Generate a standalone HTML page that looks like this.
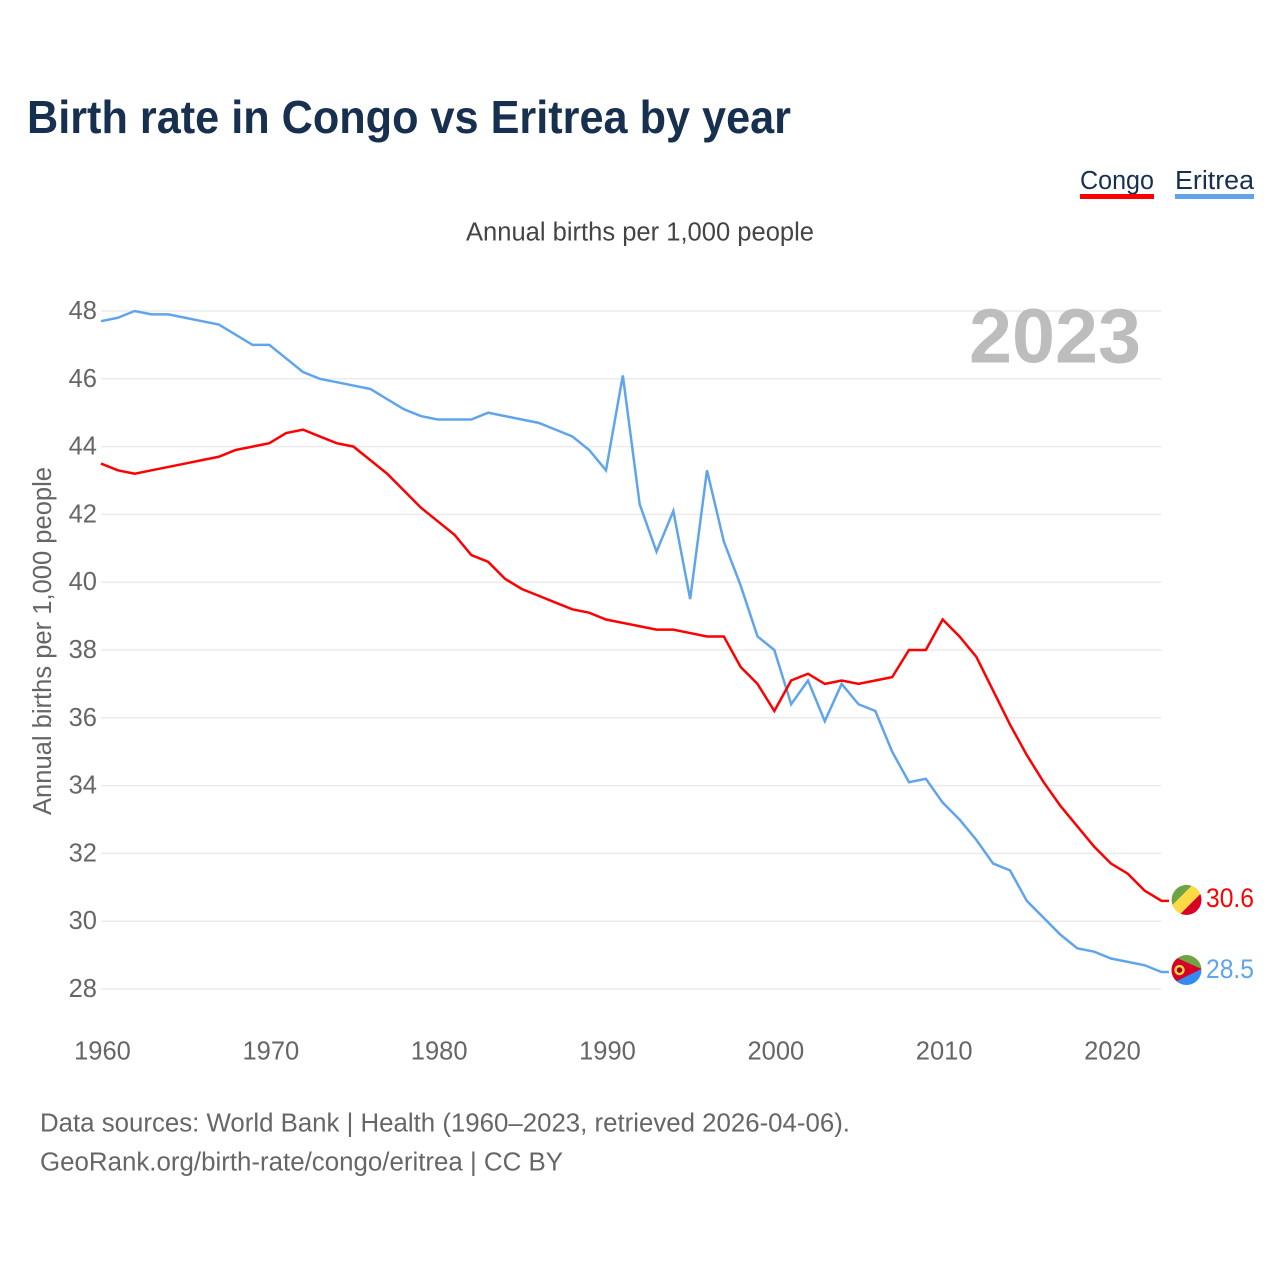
<!DOCTYPE html>
<html lang="en">
<head>
<meta charset="utf-8">
<title>Birth rate in Congo vs Eritrea by year</title>
<style>
html,body{margin:0;padding:0;background:#fff;width:1280px;height:1280px;overflow:hidden}
svg{display:block}
text{font-family:"Liberation Sans",sans-serif}
</style>
</head>
<body>
<svg id="chart" width="1280" height="1280" viewBox="0 0 1280 1280" xmlns="http://www.w3.org/2000/svg">
  <defs>
    <clipPath id="flag-clip"><circle cx="0" cy="0" r="15"></circle></clipPath>
  </defs>
  <rect x="0" y="0" width="1280" height="1280" fill="#ffffff"></rect>
  <text x="27" y="133" font-size="46" font-weight="700" fill="#17304f" textLength="764" lengthAdjust="spacingAndGlyphs">Birth rate in Congo vs Eritrea by year</text>
  <g>
    <g>
      <text x="1080" y="189" font-size="25.5" fill="#17304f" textLength="74" lengthAdjust="spacingAndGlyphs">Congo</text>
      <rect x="1080" y="194" width="74" height="5" fill="#ff0000"></rect>
    </g>
    <g>
      <text x="1175" y="189" font-size="25.5" fill="#17304f" textLength="79" lengthAdjust="spacingAndGlyphs">Eritrea</text>
      <rect x="1175" y="194" width="79" height="5" fill="#60a5ec"></rect>
    </g>
  </g>
  <text x="466" y="240.5" font-size="25.5" fill="#444444" textLength="348" lengthAdjust="spacingAndGlyphs">Annual births per 1,000 people</text>
  <text transform="translate(51,815) rotate(-90)" x="0" y="0" font-size="25.5" fill="#666666" textLength="348" lengthAdjust="spacingAndGlyphs">Annual births per 1,000 people</text>
  <g id="grid"></g>
  <g id="y-ticks"></g>
  <g id="x-ticks"></g>
  <text x="969" y="362.5" font-size="77" font-weight="700" fill="#bdbdbd" textLength="172" lengthAdjust="spacingAndGlyphs">2023</text>
  <g id="series"></g>
  <g id="flag-congo" clip-path="url(#flag-clip)">
    <circle r="15" fill="#6da544"></circle>
    <polygon points="16,-9 16,16 -9,16" fill="#d80027"></polygon>
    <polygon points="7,-16 16,-8 -8,16 -16,7" fill="#ffda44"></polygon>
  </g>
  <g id="flag-eritrea" clip-path="url(#flag-clip)">
    <rect x="-15" y="-15" width="30" height="15" fill="#6da544"></rect>
    <rect x="-15" y="0" width="30" height="15" fill="#338af3"></rect>
    <polygon points="-16,-15 15,-1 -16,14" fill="#d80027"></polygon>
    <circle cx="-7" cy="0" r="4" fill="#a2001d" stroke="#ffda44" stroke-width="2.4"></circle>
  </g>
  <text id="value-congo" x="1206" y="907" font-size="26.5" fill="#ff0000" textLength="48" lengthAdjust="spacingAndGlyphs"></text>
  <text id="value-eritrea" x="1206" y="978" font-size="26.5" fill="#60a5ec" textLength="48" lengthAdjust="spacingAndGlyphs"></text>
  <text x="40" y="1131.5" font-size="25.5" fill="#666666" textLength="810" lengthAdjust="spacingAndGlyphs">Data sources: World Bank | Health (1960–2023, retrieved 2026-04-06).</text>
  <text x="40" y="1170.5" font-size="25.5" fill="#666666" textLength="523" lengthAdjust="spacingAndGlyphs">GeoRank.org/birth-rate/congo/eritrea | CC BY</text>
</svg>
<script>
const firstYear = 1960;
const congoValues = [43.5,43.3,43.2,43.3,43.4,43.5,43.6,43.7,43.9,44.0,44.1,44.4,44.5,44.3,44.1,44.0,43.6,43.2,42.7,42.2,41.8,41.4,40.8,40.6,40.1,39.8,39.6,39.4,39.2,39.1,38.9,38.8,38.7,38.6,38.6,38.5,38.4,38.4,37.5,37.0,36.2,37.1,37.3,37.0,37.1,37.0,37.1,37.2,38.0,38.0,38.9,38.4,37.8,36.8,35.8,34.9,34.1,33.4,32.8,32.2,31.7,31.4,30.9,30.6];
const eritreaValues = [47.7,47.8,48.0,47.9,47.9,47.8,47.7,47.6,47.3,47.0,47.0,46.6,46.2,46.0,45.9,45.8,45.7,45.4,45.1,44.9,44.8,44.8,44.8,45.0,44.9,44.8,44.7,44.5,44.3,43.9,43.3,46.1,42.3,40.9,42.1,39.5,43.3,41.2,39.9,38.4,38.0,36.4,37.1,35.9,37.0,36.4,36.2,35.0,34.1,34.2,33.5,33.0,32.4,31.7,31.5,30.6,30.1,29.6,29.2,29.1,28.9,28.8,28.7,28.5];
const yTickLabels = [48,46,44,42,40,38,36,34,32,30,28];
const xTickLabels = [1960,1970,1980,1990,2000,2010,2020];

const NS = 'http://www.w3.org/2000/svg';
function xScale(year) { return 101 + (year - 1960) * (1060.5 / 63); }
function yScale(value) { return 311 + (48 - value) * (678 / 20); }

const gridGroup = document.getElementById('grid');
const yTickGroup = document.getElementById('y-ticks');
const xTickGroup = document.getElementById('x-ticks');
const seriesGroup = document.getElementById('series');

yTickLabels.forEach(function (tick) {
  const line = document.createElementNS(NS, 'line');
  
  
  line.setAttribute('x1', xScale(1960));
  line.setAttribute('x2', xScale(2023));
  line.setAttribute('y1', yScale(tick));
  line.setAttribute('y2', yScale(tick));
  line.setAttribute('stroke', '#ebebeb');
  line.setAttribute('stroke-width', '1.5');
  gridGroup.appendChild(line);

  const label = document.createElementNS(NS, 'text');
  
  
  label.setAttribute('x', 97);
  label.setAttribute('y', yScale(tick) + 8);
  label.setAttribute('text-anchor', 'end');
  label.setAttribute('font-size', '25.5');
  label.setAttribute('fill', '#666666');
  label.textContent = tick;
  yTickGroup.appendChild(label);
});

xTickLabels.forEach(function (tick) {
  const label = document.createElementNS(NS, 'text');
  
  
  label.setAttribute('x', xScale(tick) + 1.5);
  label.setAttribute('y', 1059.5);
  label.setAttribute('text-anchor', 'middle');
  label.setAttribute('font-size', '25.5');
  label.setAttribute('fill', '#666666');
  label.textContent = tick;
  xTickGroup.appendChild(label);
});

function linePoints(values) {
  const pts = values.map(function (v, i) {
    return xScale(firstYear + i).toFixed(2) + ',' + yScale(v).toFixed(2);
  });
  const last = values[values.length - 1];
  pts.push((xScale(firstYear + values.length - 1) + 7.5).toFixed(2) + ',' + yScale(last).toFixed(2));
  return pts.join(' ');
}

const eritreaLine = document.createElementNS(NS, 'polyline');


eritreaLine.setAttribute('points', linePoints(eritreaValues));
eritreaLine.setAttribute('fill', 'none');
eritreaLine.setAttribute('stroke', '#60a5ec');
eritreaLine.setAttribute('stroke-width', '2.5');
seriesGroup.appendChild(eritreaLine);

const congoLine = document.createElementNS(NS, 'polyline');


congoLine.setAttribute('points', linePoints(congoValues));
congoLine.setAttribute('fill', 'none');
congoLine.setAttribute('stroke', '#ff0000');
congoLine.setAttribute('stroke-width', '2.5');
seriesGroup.appendChild(congoLine);

const congoLast = congoValues[congoValues.length - 1];
const eritreaLast = eritreaValues[eritreaValues.length - 1];
document.getElementById('flag-congo').setAttribute('transform', 'translate(1186.5,' + (yScale(congoLast) - 1) + ')');
document.getElementById('flag-eritrea').setAttribute('transform', 'translate(1186.5,' + (yScale(eritreaLast) - 2) + ')');
const congoLabel = document.getElementById('value-congo');
congoLabel.textContent = congoLast.toFixed(1);
congoLabel.setAttribute('y', yScale(congoLast) + 6);
const eritreaLabel = document.getElementById('value-eritrea');
eritreaLabel.textContent = eritreaLast.toFixed(1);
eritreaLabel.setAttribute('y', yScale(eritreaLast) + 6);
</script>
</body>
</html>
